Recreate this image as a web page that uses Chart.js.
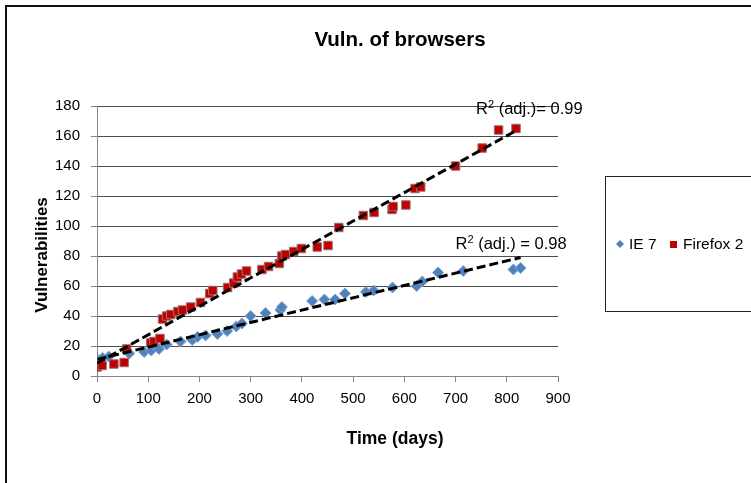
<!DOCTYPE html>
<html><head><meta charset="utf-8">
<script src="https://cdn.jsdelivr.net/npm/chart.js@4.4.0/dist/chart.umd.min.js"></script>
<style>
html,body{margin:0;padding:0;background:#fff;}
#wrap{position:relative;width:751px;height:483px;overflow:hidden;background:#fff;}
#frame{position:absolute;left:5px;top:5px;width:800px;height:600px;border-left:2px solid #111;border-top:2px solid #111;}
canvas{position:absolute;left:0;top:0;}
</style></head><body>
<div id="wrap"><div id="frame"></div><canvas id="c" width="751" height="483"></canvas></div>
<script>
// ---- data ----
const seriesNames = ['IE 7', 'Firefox 2'];
const ieDays = [1, 11, 23, 63, 92, 106, 121, 136, 163, 186, 196, 212, 235, 254, 272, 283, 300, 329, 358, 361, 420, 444, 465, 484, 525, 540, 577, 624, 635, 666, 715, 813, 827];
const ieVuln = [11, 12, 13, 15, 16, 17, 18, 21, 23, 24, 26, 27, 28, 30, 33, 35, 40, 42, 44, 46, 50, 51, 51, 55, 56, 57, 59, 60, 63, 69, 70, 71, 72];
const ffDays = [0, 10, 33, 53, 58, 105, 111, 123, 128, 136, 144, 158, 167, 183, 202, 220, 226, 255, 267, 274, 282, 292, 322, 335, 356, 361, 368, 384, 399, 430, 451, 472, 520, 541, 576, 578, 603, 621, 632, 700, 752, 784, 818];
const ffVuln = [6, 7, 8, 9, 18, 22, 23, 25, 38, 40, 41, 43, 44, 46, 49, 55, 57, 59, 62, 66, 68, 70, 71, 73, 75, 80, 81, 83, 85, 86, 87, 99, 107, 109, 111, 113, 114, 125, 126, 140, 152, 164, 165];
const r2Texts = ['0.98', '0.99'];
const xTicks = [0, 100, 200, 300, 400, 500, 600, 700, 800, 900];
const yTicks = [0, 20, 40, 60, 80, 100, 120, 140, 160, 180];
const chartTitle = 'Vuln. of browsers';
const xTitle = 'Time (days)';
const yTitle = 'Vulnerabilities';

// ---- helpers ----
function pts(xs, ys) { return xs.map((x, i) => ({x: x, y: ys[i]})); }
function fit(xs, ys) {
  const n = xs.length;
  let sx = 0, sy = 0, sxx = 0, sxy = 0;
  for (let i = 0; i < n; i++) { sx += xs[i]; sy += ys[i]; sxx += xs[i]*xs[i]; sxy += xs[i]*ys[i]; }
  const b = (n*sxy - sx*sy) / (n*sxx - sx*sx);
  const a = (sy - b*sx) / n;
  const x0 = Math.min(...xs), x1 = Math.max(...xs);
  return [{x: x0, y: a + b*x0}, {x: x1, y: a + b*x1}];
}

const FONT = "'Liberation Sans', Arial, sans-serif";
const ieColor = '#4F81BD', ieBorder = '#7FA3D0';
const ffColor = '#C00000', ffBorder = '#9A7070';

const overlay = {
  id: 'overlay',
  afterDatasetsDraw(chart) {
    const ctx = chart.ctx;
    const xs = chart.scales.x, ys = chart.scales.y;
    ctx.save();
    // R^2 labels
    const drawR2 = (dx, dy, txt, sep) => {
      const px = xs.getPixelForValue(dx), py = ys.getPixelForValue(dy);
      ctx.fillStyle = '#000';
      ctx.textBaseline = 'alphabetic';
      ctx.textAlign = 'left';
      ctx.font = '16.5px ' + FONT;
      ctx.fillText('R', px, py);
      let w = ctx.measureText('R').width;
      ctx.font = '11px ' + FONT;
      ctx.fillText('2', px + w, py - 6);
      w += ctx.measureText('2').width;
      ctx.font = '16.5px ' + FONT;
      ctx.fillText(' (adj.)' + sep + '= ' + txt, px + w, py);
    };
    drawR2(740, 175, r2Texts[1], '');
    drawR2(700, 85, r2Texts[0], ' ');
    ctx.restore();
  },
  afterDraw(chart) {
    const ctx = chart.ctx;
    ctx.save();
    // titles
    ctx.fillStyle = '#000';
    ctx.textAlign = 'center';
    ctx.textBaseline = 'middle';
    ctx.font = 'bold 20.5px ' + FONT;
    ctx.fillText(chartTitle, 400, 40);
    ctx.font = 'bold 17.5px ' + FONT;
    ctx.fillText(xTitle, 395, 439);
    ctx.save();
    ctx.translate(42, 255);
    ctx.rotate(-Math.PI / 2);
    ctx.font = 'bold 17px ' + FONT;
    ctx.fillText(yTitle, 0, 0);
    ctx.restore();
    // legend box
    ctx.strokeStyle = '#222';
    ctx.lineWidth = 1;
    ctx.strokeRect(605.5, 176.5, 200, 135);
    const cy = 244;
    ctx.fillStyle = ieColor;
    ctx.beginPath();
    ctx.moveTo(620, cy - 4); ctx.lineTo(624, cy); ctx.lineTo(620, cy + 4); ctx.lineTo(616, cy); ctx.closePath();
    ctx.fill();
    ctx.fillStyle = '#000';
    ctx.font = '15.5px ' + FONT;
    ctx.textBaseline = 'middle';
    ctx.textAlign = 'left';
    ctx.fillText(seriesNames[0], 629, cy + 1);
    ctx.fillStyle = ffColor;
    ctx.fillRect(670, cy - 3, 7, 7);
    ctx.fillStyle = '#000';
    ctx.fillText(seriesNames[1], 683, cy + 1);
    ctx.restore();
  }
};

new Chart(document.getElementById('c'), {
  type: 'scatter',
  data: {
    datasets: [
      { label: 'IE trend', data: fit(ieDays, ieVuln), type: 'line', showLine: true, borderColor: '#000', borderWidth: 3, borderDash: [9, 4], pointRadius: 0, order: 0, fill: false },
      { label: 'FF trend', data: fit(ffDays, ffVuln), type: 'line', showLine: true, borderColor: '#000', borderWidth: 3, borderDash: [9, 4], pointRadius: 0, order: 0, fill: false },
      { label: seriesNames[1], data: pts(ffDays, ffVuln), pointStyle: 'rect', pointRadius: 6, backgroundColor: ffColor, borderColor: ffBorder, borderWidth: 1, order: 1 },
      { label: seriesNames[0], data: pts(ieDays, ieVuln), pointStyle: 'rectRot', pointRadius: 5.5, backgroundColor: ieColor, borderColor: ieBorder, borderWidth: 1, order: 2 }
    ]
  },
  options: {
    responsive: false,
    animation: false,
    devicePixelRatio: 1,
    layout: { padding: { left: 0, right: 193, top: 106, bottom: 0 } },
    plugins: {
      legend: { display: false },
      tooltip: { enabled: false },
      title: { display: false }
    },
    scales: {
      x: {
        type: 'linear', min: 0, max: 900,
        afterBuildTicks: s => { s.ticks = xTicks.map(v => ({value: v})); },
        afterFit: s => { s.height = 107; },
        ticks: { color: '#000', font: { family: FONT, size: 15 }, padding: 8, maxRotation: 0 },
        grid: { drawOnChartArea: false, drawTicks: true, tickLength: 6, tickColor: '#868686' },
        border: { color: '#868686', width: 1 },
        title: { display: false }
      },
      y: {
        type: 'linear', min: 0, max: 180,
        afterBuildTicks: s => { s.ticks = yTicks.map(v => ({value: v})); },
        afterFit: s => { s.width = 97; },
        ticks: { color: '#000', font: { family: FONT, size: 15 }, padding: 11 },
        grid: { color: '#4d4d4d', lineWidth: 1, drawTicks: true, tickLength: 6, tickColor: '#868686' },
        border: { color: '#868686', width: 1 },
        title: { display: false }
      }
    }
  },
  plugins: [overlay]
});
</script>
</body></html>
